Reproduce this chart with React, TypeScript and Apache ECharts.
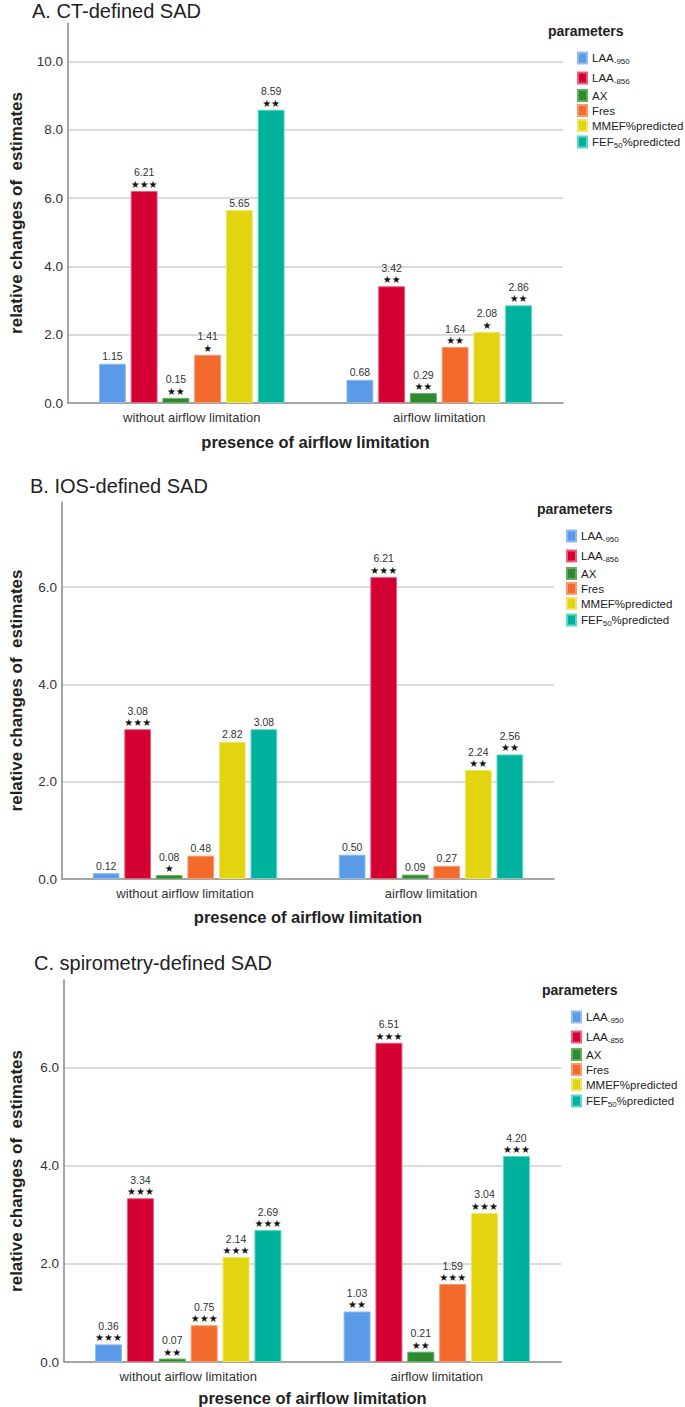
import React, { useEffect, useRef } from "react";
import * as echarts from "echarts";

// ---------- DATA ----------
const categories = ["without airflow limitation", "airflow limitation"];
const seriesNames = ["LAA-950", "LAA-856", "AX", "Fres", "MMEF%predicted", "FEF50%predicted"];

// Panel A: CT-defined SAD (order follows seriesNames)
const ctWithout = [1.15, 6.21, 0.15, 1.41, 5.65, 8.59];
const ctWithoutStars = [0, 3, 2, 1, 0, 2];
const ctAirflow = [0.68, 3.42, 0.29, 1.64, 2.08, 2.86];
const ctAirflowStars = [0, 2, 2, 2, 1, 2];

// Panel B: IOS-defined SAD
const iosWithout = [0.12, 3.08, 0.08, 0.48, 2.82, 3.08];
const iosWithoutStars = [0, 3, 1, 0, 0, 0];
const iosAirflow = [0.5, 6.21, 0.09, 0.27, 2.24, 2.56];
const iosAirflowStars = [0, 3, 0, 0, 2, 2];

// Panel C: spirometry-defined SAD
const spWithout = [0.36, 3.34, 0.07, 0.75, 2.14, 2.69];
const spWithoutStars = [3, 3, 2, 3, 3, 3];
const spAirflow = [1.03, 6.51, 0.21, 1.59, 3.04, 4.2];
const spAirflowStars = [2, 3, 2, 3, 3, 3];

const panelTitles = ["A. CT-defined SAD", "B. IOS-defined SAD", "C. spirometry-defined SAD"];
const yMaxes = [11.13, 7.75, 7.79];

// ---------- STYLE ----------
const colors = ["#5a9ae6", "#d50032", "#2d8a2d", "#f26a2c", "#e2d40e", "#00b29d"];
const borders = ["#8fbdf0", "#e8607f", "#5fae5f", "#f79a70", "#efe56a", "#5fd6c6"];
const FONT = "'Liberation Sans', Arial, Helvetica, sans-serif";

const panels = [
  { grid: { left: 67, top: 23, width: 496, height: 380 }, titleTop: 0, titleLeft: 32, paramTop: 23, paramLeft: 548, legLeft: 577, legBase: 31, yGap: 43, xLabelMargin: 8, xNameGap: 30, values: [ctWithout, ctAirflow], stars: [ctWithoutStars, ctAirflowStars] },
  { grid: { left: 53, top: 502, width: 501, height: 377 }, titleTop: 475, titleLeft: 30, paramTop: 501, paramLeft: 537, legLeft: 566, legBase: 509, yGap: 37, xLabelMargin: 8, xNameGap: 29, values: [iosWithout, iosAirflow], stars: [iosWithoutStars, iosAirflowStars] },
  { grid: { left: 55, top: 980, width: 506, height: 383 }, titleTop: 952, titleLeft: 34, paramTop: 982, paramLeft: 542, legLeft: 571, legBase: 990, yGap: 39, xLabelMargin: 8, xNameGap: 27, values: [spWithout, spAirflow], stars: [spWithoutStars, spAirflowStars] },
];
const legendOffsets = [27, 47, 65, 80, 95, 111];

function legendFormatter(name: string) {
  if (name === "LAA-950") return "{a|LAA}{s|-950}";
  if (name === "LAA-856") return "{a|LAA}{s|-856}";
  if (name === "FEF50%predicted") return "{a|FEF}{s|50}{a|%predicted}";
  return "{a|" + name + "}";
}

function buildOption() {
  const title: any[] = [];
  const legend: any[] = [];
  const grid: any[] = [];
  const xAxis: any[] = [];
  const yAxis: any[] = [];
  const series: any[] = [];

  panels.forEach((p, pi) => {
    title.push({
      text: panelTitles[pi],
      left: p.titleLeft,
      top: p.titleTop,
      padding: 0,
      textStyle: { fontFamily: FONT, fontSize: 20, fontWeight: "normal", color: "#222", lineHeight: 22 },
    });
    title.push({
      text: "parameters",
      left: p.paramLeft,
      top: p.paramTop,
      padding: 0,
      textStyle: { fontFamily: FONT, fontSize: 14, fontWeight: "bold", color: "#222", lineHeight: 16 },
    });
    seriesNames.forEach((n, si) => {
      legend.push({
        data: [n],
        left: p.legLeft,
        top: p.legBase + legendOffsets[si] - 7,
        padding: 0,
        itemWidth: 9,
        itemHeight: 11,
        icon: "rect",
        selectedMode: false,
        formatter: legendFormatter,
        textStyle: {
          fontFamily: FONT,
          fontSize: 11.5,
          color: "#222",
          rich: {
            a: { fontFamily: FONT, fontSize: 11.5, color: "#222", lineHeight: 14 },
            s: { fontFamily: FONT, fontSize: 8, color: "#222", lineHeight: 14, padding: [6, 0, 0, 0] },
          },
        },
      });
    });
    grid.push({ ...p.grid, containLabel: false });
    xAxis.push({
      type: "category",
      gridIndex: pi,
      data: categories,
      axisTick: { show: false },
      axisLine: { lineStyle: { color: "#888", width: 1.5 } },
      axisLabel: { fontFamily: FONT, fontSize: 13, color: "#333", margin: p.xLabelMargin },
      name: "presence of airflow limitation",
      nameLocation: "middle",
      nameGap: p.xNameGap,
      nameTextStyle: { fontFamily: FONT, fontSize: 16.5, fontWeight: "bold", color: "#222" },
    });
    yAxis.push({
      type: "value",
      gridIndex: pi,
      min: 0,
      max: yMaxes[pi],
      interval: 2,
      axisLine: { show: true, lineStyle: { color: "#888", width: 1.5 } },
      axisTick: { show: false },
      axisLabel: {
        fontFamily: FONT,
        fontSize: 13.5,
        color: "#333",
        margin: 5,
        showMaxLabel: false,
        formatter: (v: number) => v.toFixed(1),
      },
      splitLine: { show: true, showMinLine: false, showMaxLine: false, lineStyle: { color: "#cfcfcf", width: 1.5 } },
      name: "relative changes of  estimates",
      nameLocation: "middle",
      nameGap: p.yGap,
      nameTextStyle: { fontFamily: FONT, fontSize: 17, fontWeight: "bold", color: "#222" },
    });
    seriesNames.forEach((n, si) => {
      const vals = [p.values[0][si], p.values[1][si]];
      const st = [p.stars[0][si], p.stars[1][si]];
      series.push({
        type: "bar",
        name: n,
        xAxisIndex: pi,
        yAxisIndex: pi,
        data: vals,
        barCategoryGap: "25%",
        barGap: "18%",
        itemStyle: { color: colors[si], borderColor: borders[si], borderWidth: 1 },
        label: {
          show: true,
          position: "top",
          distance: 1,
          formatter: (params: any) => {
            const v = Number(params.value).toFixed(2);
            const k = st[params.dataIndex];
            return k > 0 ? "{v|" + v + "}\n{s|" + "★".repeat(k) + "}" : "{v|" + v + "}";
          },
          rich: {
            v: { fontFamily: FONT, fontSize: 10.5, color: "#333", lineHeight: 13 },
            s: { fontFamily: "'DejaVu Sans', sans-serif", fontSize: 10, color: "#111", lineHeight: 11 },
          },
        },
      });
    });
  });

  return { animation: false, backgroundColor: "#fff", title, legend, grid, xAxis, yAxis, series };
}

export default function App() {
  const ref = useRef<HTMLDivElement>(null);
  useEffect(() => {
    document.body.style.margin = "0";
    if (!ref.current) return;
    const chart = echarts.init(ref.current, undefined, { renderer: "svg" });
    chart.setOption(buildOption() as any);
    return () => chart.dispose();
  }, []);
  return <div ref={ref} style={{ width: 685, height: 1407, background: "#fff" }} />;
}
